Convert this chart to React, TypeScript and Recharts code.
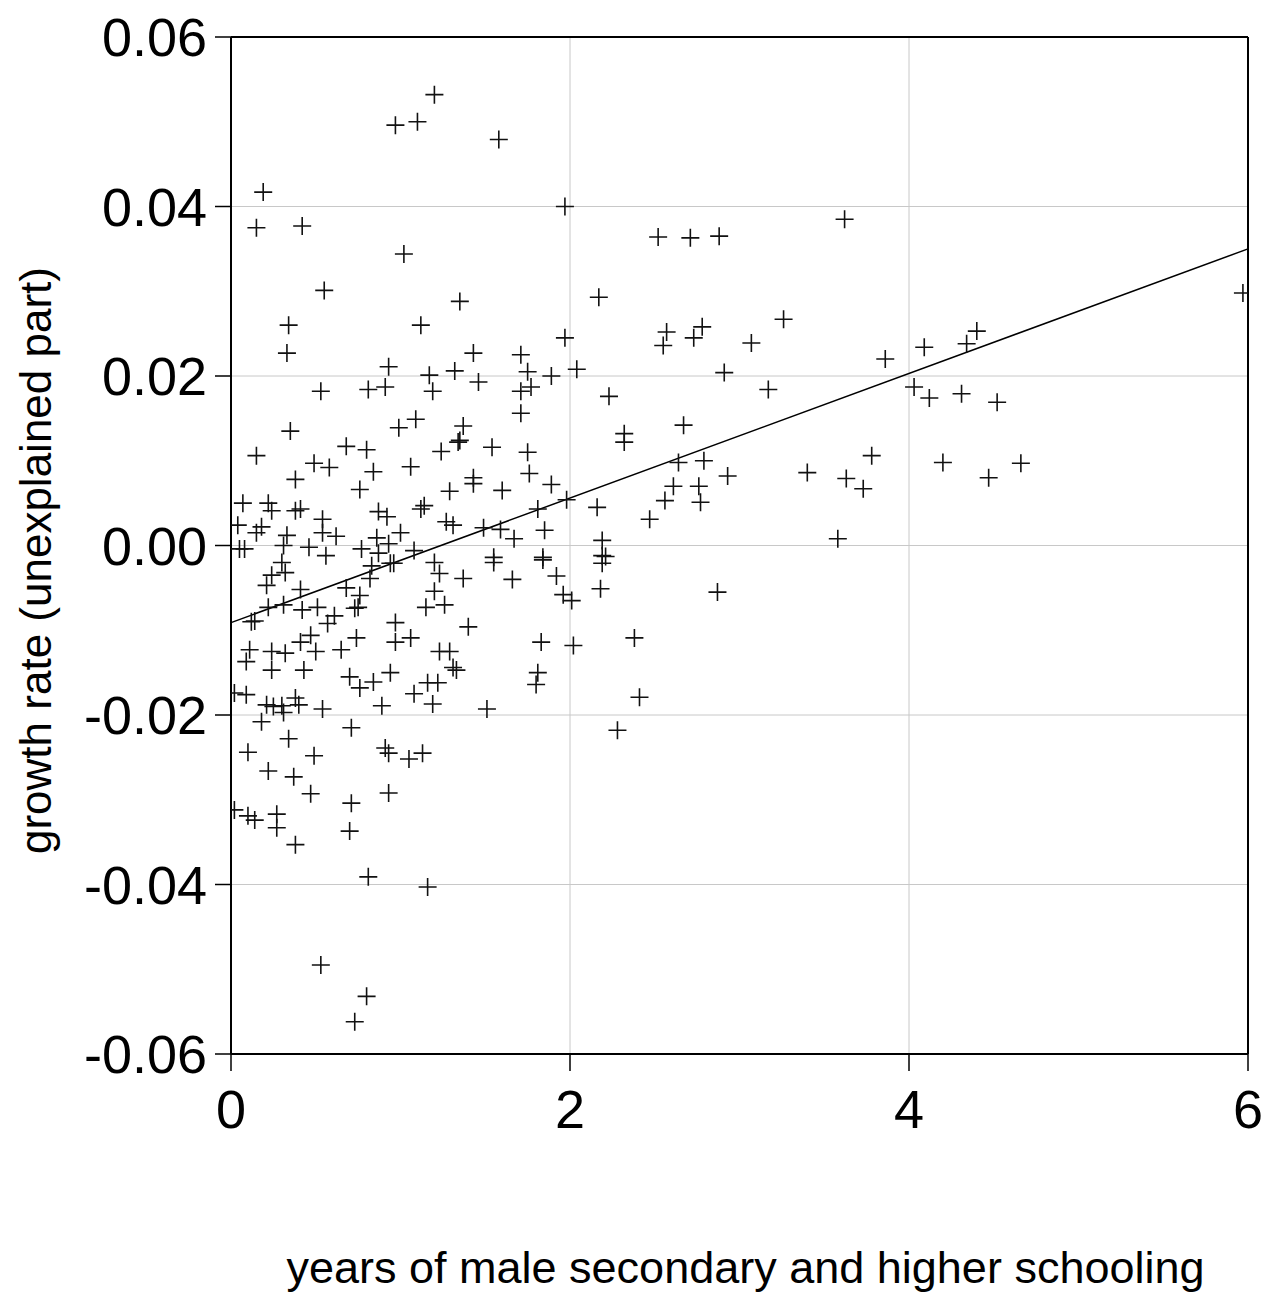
import {
  ScatterChart,
  Scatter,
  XAxis,
  YAxis,
  CartesianGrid,
  ReferenceLine,
  Label,
} from "recharts";

// years of male secondary and higher schooling
const schooling = [
  1.2, 0.97, 1.1, 1.58, 0.19, 0.15, 0.42, 1.97, 1.02, 2.52,
  2.71, 2.88, 3.62, 0.55, 1.35, 2.17, 5.97, 0.34, 1.12, 0.33,
  2.57, 2.55, 2.78, 2.73, 3.26, 3.07, 4.4, 4.34, 4.09, 3.86,
  1.97, 1.43, 1.71, 0.93, 2.04, 1.32, 1.17, 1.46, 1.75, 1.77,
  1.71, 0.91, 0.81, 0.53, 1.19, 1.89, 2.23, 2.91, 3.17, 4.03,
  4.12, 4.31, 4.52, 1.71, 0.35, 0.15, 0.99, 1.09, 1.37, 1.34,
  1.35, 0.68, 0.8, 1.24, 0.49, 0.58, 0.84, 1.06, 0.38, 0.76,
  1.29, 1.43, 1.43, 1.54, 1.75, 1.76, 2.32, 2.32, 2.67, 1.6,
  1.89, 2.64, 2.79, 2.61, 2.76, 2.93, 2.56, 2.77, 2.47, 1.98,
  1.81, 2.16, 1.49, 1.59, 1.85, 1.67, 2.19, 1.84, 2.19, 1.55,
  0.07, 0.22, 0.24, 0.38, 0.41, 0.54, 0.87, 0.92, 1.14, 1.12,
  1.27, 1.31, 0.04, 0.18, 0.15, 0.33, 0.54, 0.62, 1.0, 0.86,
  0.93, 0.31, 0.46, 0.77, 0.05, 0.08, 0.56, 0.87, 1.08, 0.3,
  0.32, 0.24, 0.83, 0.96, 0.94, 1.2, 1.23, 1.37, 0.82, 0.21,
  0.41, 0.68, 0.76, 0.22, 0.31, 0.75, 0.73, 1.2, 0.42, 0.51,
  1.15, 1.26, 0.14, 0.12, 0.61, 0.57, 1.4, 0.97, 0.47, 0.41,
  0.74, 0.97, 1.06, 0.11, 0.24, 0.32, 0.5, 0.65, 0.09, 0.24,
  0.43, 1.23, 1.29, 1.31, 1.33, 0.7, 0.94, 0.84, 0.76, 1.16,
  1.22, 1.08, 1.19, 0.02, 0.09, 0.21, 0.25, 0.3, 0.38, 0.4,
  0.31, 0.54, 0.89, 0.18, 0.71, 0.34, 0.1, 0.49, 0.91, 0.93,
  1.05, 1.13, 0.22, 0.37, 0.47, 0.93, 0.71, 0.02, 0.1, 0.14,
  0.27, 0.27, 0.38, 0.7, 0.81, 1.16, 0.53, 0.8, 0.73, 1.55,
  1.84, 2.21, 2.19, 1.66, 1.92, 1.96, 2.01, 2.18, 2.87, 1.83,
  2.02, 2.38, 1.81, 1.8, 2.41, 1.51, 2.28, 3.4, 3.63, 3.73,
  3.78, 4.2, 4.47, 4.66, 3.58,
];

// growth rate (unexplained part)
const growth = [
  0.0532, 0.0496, 0.05, 0.0479, 0.0417, 0.0375, 0.0377, 0.04, 0.0344, 0.0364,
  0.0363, 0.0365, 0.0385, 0.0301, 0.0288, 0.0293, 0.0298, 0.026, 0.026, 0.0227,
  0.0252, 0.0236, 0.0258, 0.0245, 0.0267, 0.0239, 0.0253, 0.0238, 0.0234, 0.022,
  0.0245, 0.0227, 0.0225, 0.0211, 0.0208, 0.0206, 0.0201, 0.0193, 0.0205, 0.0187,
  0.0182, 0.0187, 0.0184, 0.0182, 0.0182, 0.02, 0.0176, 0.0204, 0.0184, 0.0187,
  0.0174, 0.0179, 0.0169, 0.0156, 0.0135, 0.0106, 0.0139, 0.0149, 0.0141, 0.0122,
  0.0124, 0.0117, 0.0113, 0.0111, 0.0097, 0.0092, 0.0087, 0.0093, 0.0078, 0.0066,
  0.0064, 0.008, 0.0073, 0.0116, 0.011, 0.0085, 0.0132, 0.0122, 0.0142, 0.0065,
  0.0072, 0.0098, 0.01, 0.007, 0.007, 0.0082, 0.0053, 0.0051, 0.0031, 0.0054,
  0.0043, 0.0045, 0.0021, 0.0019, 0.0018, 0.0008, 0.0006, -0.0014, -0.0012, -0.0014,
  0.005, 0.005, 0.0041, 0.0041, 0.0043, 0.0031, 0.004, 0.0034, 0.0047, 0.0043,
  0.0028, 0.0024, 0.0024, 0.0022, 0.0015, 0.0012, 0.0015, 0.0011, 0.0015, 0.0009,
  0.0002, 0.0, -0.0002, -0.0004, -0.0004, -0.0004, -0.0012, -0.0009, -0.0006, -0.002,
  -0.0032, -0.0035, -0.0024, -0.0021, -0.0021, -0.002, -0.0033, -0.0039, -0.0039, -0.0047,
  -0.0052, -0.005, -0.0059, -0.0073, -0.007, -0.0073, -0.0074, -0.0054, -0.0076, -0.0073,
  -0.0073, -0.007, -0.0089, -0.009, -0.0083, -0.0092, -0.0096, -0.0091, -0.0106, -0.0114,
  -0.0109, -0.0114, -0.0109, -0.0123, -0.0125, -0.0127, -0.0125, -0.0123, -0.0137, -0.0147,
  -0.0147, -0.0125, -0.0125, -0.0144, -0.0147, -0.0155, -0.015, -0.0161, -0.0168, -0.0162,
  -0.0162, -0.0175, -0.0187, -0.0174, -0.0176, -0.0188, -0.019, -0.0189, -0.018, -0.0188,
  -0.0197, -0.0193, -0.0189, -0.0208, -0.0215, -0.0228, -0.0244, -0.0248, -0.0239, -0.0245,
  -0.0252, -0.0245, -0.0266, -0.0273, -0.0293, -0.0292, -0.0304, -0.0312, -0.0319, -0.0324,
  -0.0317, -0.0333, -0.0353, -0.0337, -0.0391, -0.0403, -0.0495, -0.0532, -0.0562, -0.002,
  -0.0017, -0.0013, -0.0021, -0.004, -0.0036, -0.0058, -0.0065, -0.0051, -0.0055, -0.0114,
  -0.0118, -0.0109, -0.015, -0.0164, -0.0179, -0.0193, -0.0218, 0.0086, 0.0079, 0.0067,
  0.0106, 0.0098, 0.008, 0.0097, 0.0008,
];

// fitted regression line end points
const fitX = [0, 6];
const fitY = [-0.0091, 0.035];

const xTicks = [0, 2, 4, 6];
const yTicks = [-0.06, -0.04, -0.02, 0, 0.02, 0.04, 0.06];

const points = schooling.map((x, i) => ({ x, y: growth[i] }));

const FONT = "'Liberation Sans', Arial, sans-serif";

const Cross = (props: any) => {
  const { cx, cy } = props;
  if (cx == null || cy == null) return null;
  const r = 9;
  return (
    <path
      d={`M${cx - r},${cy}H${cx + r}M${cx},${cy - r}V${cy + r}`}
      stroke="#111"
      strokeWidth={1.6}
      fill="none"
    />
  );
};

const YTitle = (props: any) => {
  const vb = props.viewBox;
  const x = vb.x + 35;
  const y = vb.y + vb.height / 2 + 15;
  return (
    <text
      x={x}
      y={y}
      transform={`rotate(-90 ${x} ${y})`}
      textAnchor="middle"
      dominantBaseline="central"
      fontSize={44}
      fontFamily={FONT}
      fill="#000"
    >
      growth rate (unexplained part)
    </text>
  );
};

const XTitle = (props: any) => {
  const vb = props.viewBox;
  return (
    <text
      x={vb.x + vb.width / 2 + 6}
      y={vb.y + vb.height - 17}
      textAnchor="middle"
      fontSize={45}
      fontFamily={FONT}
      fill="#000"
    >
      years of male secondary and higher schooling
    </text>
  );
};

export default function App() {
  return (
    <div style={{ position: "absolute", left: 0, top: 0, background: "#fff" }}>
      <ScatterChart
        width={1266}
        height={1300}
        margin={{ top: 37, right: 18, bottom: 0, left: 0 }}
      >
        <CartesianGrid stroke="#c8c8c8" strokeWidth={1} />
        <XAxis
          type="number"
          dataKey="x"
          domain={[0, 6]}
          ticks={xTicks}
          height={246}
          tickSize={17}
          tickMargin={19}
          axisLine={{ stroke: "#000", strokeWidth: 2 }}
          tickLine={{ stroke: "#000", strokeWidth: 1.5 }}
          tick={{ fill: "#000", fontSize: 54, fontFamily: FONT }}
          allowDataOverflow
        >
          <Label content={XTitle} />
        </XAxis>
        <YAxis
          type="number"
          dataKey="y"
          domain={[-0.06, 0.06]}
          ticks={yTicks}
          width={231}
          tickSize={16}
          tickMargin={8}
          tickFormatter={(v: number) => v.toFixed(2)}
          axisLine={{ stroke: "#000", strokeWidth: 2 }}
          tickLine={{ stroke: "#000", strokeWidth: 1.5 }}
          tick={{ fill: "#000", fontSize: 54, fontFamily: FONT }}
          allowDataOverflow
        >
          <Label content={YTitle} />
        </YAxis>
        <ReferenceLine y={0.06} stroke="#000" strokeWidth={2} />
        <ReferenceLine x={6} stroke="#000" strokeWidth={2} />
        <ReferenceLine
          segment={[
            { x: fitX[0], y: fitY[0] },
            { x: fitX[1], y: fitY[1] },
          ]}
          stroke="#000"
          strokeWidth={1.5}
        />
        <Scatter data={points} shape={Cross} isAnimationActive={false} />
      </ScatterChart>
    </div>
  );
}
